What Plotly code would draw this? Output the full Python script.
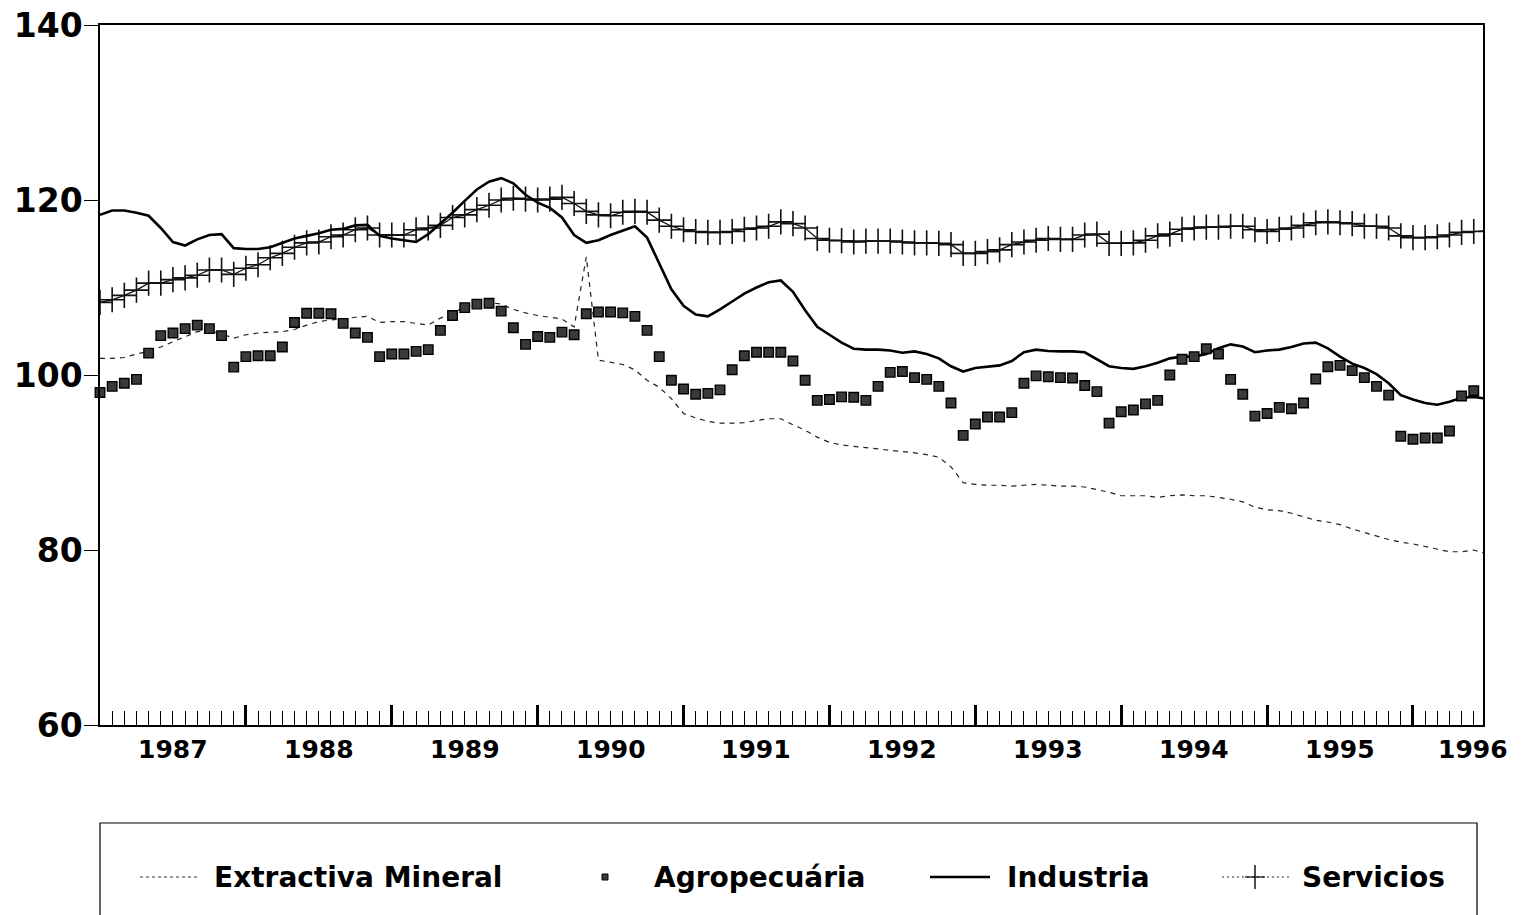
import plotly.graph_objects as go

# ---------------- data (monthly, Jan 1987 .. Jul 1996) ----------------
start_year = 1987
n_months = 115

extractiva = [
    101.9, 101.9, 102.0, 102.4, 102.7, 103.2, 103.8, 104.4, 104.95, 105.1,
    104.7, 104.2, 104.6, 104.8, 104.85, 104.95, 105.2, 105.7, 106.1, 106.3,
    106.4, 106.6, 106.7, 106.0, 106.1, 106.1, 105.9, 105.7, 106.5, 107.05,
    107.8, 108.1, 108.3, 108.1, 107.5, 107.1, 106.8, 106.6, 106.4, 105.5,
    113.5, 101.7, 101.45, 101.2, 100.6, 99.4, 98.6, 97.3, 95.6, 95.1,
    94.7, 94.5, 94.5, 94.55, 94.8, 95.0, 95.0, 94.3, 93.7, 92.9,
    92.3, 92.0, 91.85, 91.7, 91.6, 91.4, 91.3, 91.1, 90.9, 90.6,
    89.5, 87.7, 87.5, 87.4, 87.4, 87.3, 87.4, 87.5, 87.4, 87.3,
    87.3, 87.2, 86.9, 86.6, 86.2, 86.2, 86.2, 86.0, 86.2, 86.3,
    86.2, 86.2, 86.0, 85.8, 85.5, 84.9, 84.6, 84.5, 84.2, 83.8,
    83.4, 83.2, 82.9, 82.4, 82.0, 81.6, 81.2, 80.9, 80.7, 80.4,
    80.1, 79.8, 79.8, 80.0, 79.6,
]

agropecuaria = [
    98.0, 98.7, 99.05, 99.5, 102.5, 104.5, 104.8, 105.3, 105.7, 105.3,
    104.5, 100.9, 102.1, 102.2, 102.2, 103.2, 106.0, 107.05, 107.05, 107.0,
    105.9, 104.8, 104.3, 102.1, 102.4, 102.4, 102.7, 102.9, 105.1, 106.8,
    107.7, 108.1, 108.2, 107.3, 105.4, 103.5, 104.4, 104.3, 104.9, 104.6,
    107.0, 107.2, 107.2, 107.1, 106.7, 105.1, 102.1, 99.4, 98.4, 97.8,
    97.9, 98.3, 100.6, 102.2, 102.6, 102.6, 102.6, 101.6, 99.4, 97.1,
    97.2, 97.5, 97.45, 97.1, 98.7, 100.3, 100.4, 99.7, 99.5, 98.7,
    96.8, 93.1, 94.4, 95.2, 95.2, 95.7, 99.05, 99.9, 99.8, 99.7,
    99.65, 98.8, 98.1, 94.5, 95.8, 96.0, 96.7, 97.1, 100.0, 101.8,
    102.1, 103.0, 102.4, 99.5, 97.8, 95.3, 95.6, 96.3, 96.15, 96.8,
    99.55, 100.95, 101.1, 100.5, 99.7, 98.7, 97.7, 93.0, 92.65, 92.8,
    92.8, 93.6, 97.6, 98.2, 98.7,
]

industria = [
    118.3, 118.8, 118.8, 118.55, 118.2, 116.8, 115.2, 114.8, 115.5, 116.0,
    116.1, 114.5, 114.4, 114.4, 114.6, 115.1, 115.6, 115.9, 116.2, 116.6,
    116.7, 117.1, 117.15, 115.9, 115.6, 115.4, 115.2, 116.1, 117.3, 118.55,
    119.9, 121.2, 122.1, 122.5, 121.9, 120.6, 119.7, 119.1, 118.0, 116.0,
    115.1, 115.4, 116.0, 116.5, 117.0, 115.7, 112.8, 109.8, 107.9, 106.9,
    106.7, 107.5, 108.4, 109.3, 110.0, 110.6, 110.8, 109.5, 107.4, 105.5,
    104.6, 103.7, 103.0, 102.9, 102.9, 102.8, 102.55, 102.7, 102.4, 101.9,
    101.0, 100.4, 100.8, 100.95, 101.1, 101.6, 102.6, 102.9, 102.75, 102.7,
    102.7, 102.6, 101.8, 101.0, 100.8, 100.7, 101.0, 101.4, 101.9, 102.1,
    102.1, 102.4, 103.05, 103.5, 103.25, 102.6, 102.8, 102.9, 103.2, 103.6,
    103.7, 103.05, 102.1, 101.3, 100.8, 100.1, 99.05, 97.7, 97.2, 96.8,
    96.6, 96.95, 97.4, 97.5, 97.3,
]

servicios = [
    108.3, 108.6, 109.1, 109.7, 110.5, 110.5, 110.9, 111.1, 111.4, 112.0,
    112.0, 111.5, 112.2, 112.6, 113.4, 113.9, 114.6, 115.1, 115.2, 115.8,
    116.0, 116.6, 116.8, 116.0, 116.0, 116.0, 116.6, 116.8, 117.1, 118.0,
    118.3, 118.9, 119.4, 120.0, 120.2, 120.1, 120.0, 120.1, 120.3, 119.6,
    118.7, 118.3, 118.2, 118.6, 118.7, 118.6, 117.7, 117.0, 116.6, 116.4,
    116.3, 116.3, 116.4, 116.65, 116.8, 117.0, 117.5, 117.3, 116.8, 115.6,
    115.4, 115.35, 115.2, 115.3, 115.3, 115.3, 115.2, 115.1, 115.1, 115.05,
    114.9, 113.9, 113.9, 114.1, 114.3, 114.9, 115.2, 115.4, 115.6, 115.5,
    115.5, 116.0, 116.1, 115.05, 115.05, 115.1, 115.4, 115.9, 116.1, 116.65,
    116.8, 116.9, 116.9, 117.0, 117.0, 116.6, 116.4, 116.65, 116.8, 117.1,
    117.4, 117.5, 117.4, 117.3, 117.0, 117.0, 116.8, 115.9, 115.7, 115.7,
    115.8, 116.0, 116.3, 116.4, 116.5,
]

year_labels = ["1987", "1988", "1989", "1990", "1991", "1992", "1993", "1994", "1995", "1996"]
y_ticks = [60, 80, 100, 120, 140]
series_names = ["Extractiva Mineral", "Agropecuária", "Industria", "Servicios"]

# ---------------- figure ----------------
t = [start_year + k / 12 for k in range(n_months)]
FONT = "DejaVu Sans"

fig = go.Figure()
fig.add_trace(go.Scatter(x=t, y=extractiva, name=series_names[0], mode="lines",
                         line=dict(color="#222222", width=1.2, dash="5px,5px")))
fig.add_trace(go.Scatter(x=t, y=servicios, name=series_names[3], mode="lines+markers",
                         line=dict(color="#111111", width=1.3),
                         marker=dict(symbol="cross-thin", size=18,
                                     line=dict(color="#111111", width=1.6))))
fig.add_trace(go.Scatter(x=t, y=industria, name=series_names[2], mode="lines",
                         line=dict(color="black", width=2.6)))
fig.add_trace(go.Scatter(x=t, y=agropecuaria, name=series_names[1], mode="markers",
                         cliponaxis=False,
                         marker=dict(symbol="square", size=9.5, color="#3a3a3a",
                                     line=dict(color="black", width=1.4))))

# page geometry (body margin removed by the post script below)
PAGE_W, PAGE_H = 1523, 915
W, H = PAGE_W, PAGE_H
PL, PR, PT, PB = 100, 1483, 25, 725          # plot area in page pixels
L, T = PL, PT
R, B = W - PR, H - PB
pw, ph = PR - PL, PB - PT


def px(xp):
    return (xp - PL) / pw


def py(yp):
    return (PB - yp) / ph


fig.update_layout(
    width=W, height=H,
    margin=dict(l=L, r=R, t=T, b=B, autoexpand=False),
    paper_bgcolor="white", plot_bgcolor="white",
    showlegend=False,
    font=dict(family=FONT, color="black"),
    xaxis=dict(
        range=[1987.0, 1996.48], automargin=False,
        showgrid=False, zeroline=False,
        showline=True, linecolor="black", linewidth=1.5, mirror=True,
        tickmode="array", tickvals=list(range(1988, 1997)),
        ticks="inside", ticklen=20, tickwidth=3, tickcolor="black",
        showticklabels=False,
        minor=dict(ticks="inside", ticklen=14, tickwidth=1, tickcolor="black",
                   tickmode="linear", tick0=1987, dtick=1 / 12, showgrid=False),
    ),
    yaxis=dict(
        range=[60, 140], automargin=False,
        tickmode="array", tickvals=y_ticks,
        ticks="outside", ticklen=14, tickwidth=1.2, tickcolor="black",
        tickfont=dict(family=FONT, size=33, color="black", weight="bold"),
        ticklabelstandoff=-5, ticklabeloverflow="allow",
        showgrid=False, zeroline=False,
        showline=True, linecolor="black", linewidth=1.5, mirror=True,
    ),
)

# year labels centred in each year
annotations = []
for i, lab in enumerate(year_labels):
    xpos = start_year + i + 0.5 if i < len(year_labels) - 1 else 1996.41
    annotations.append(dict(x=xpos, xref="x", y=py(749), yref="paper",
                            text=lab, showarrow=False, xanchor="center", yanchor="middle",
                            font=dict(family=FONT, size=25, color="black", weight="bold")))

# legend (drawn manually to mimic the original boxed legend)
leg_y = 877
text_x = [212, 652, 1005, 1300]
for name, xt in zip(series_names, text_x):
    annotations.append(dict(x=px(xt), xref="paper", y=py(leg_y), yref="paper",
                            text=name, showarrow=False, xanchor="left", yanchor="middle",
                            font=dict(family=FONT, size=28, color="black", weight="bold")))

shapes = [
    # legend box (open at the bottom, cut by the page edge)
    dict(type="rect", xref="paper", yref="paper", x0=px(100), x1=px(1477),
         y0=py(823), y1=py(930), line=dict(color="black", width=1.2)),
    # Extractiva sample
    dict(type="line", xref="paper", yref="paper", x0=px(140), x1=px(200),
         y0=py(leg_y), y1=py(leg_y), line=dict(color="#333333", width=1.2, dash="3px,3px")),
    # Agropecuaria sample
    dict(type="rect", xref="paper", yref="paper", x0=px(602), x1=px(608),
         y0=py(874), y1=py(880), line=dict(color="black", width=1), fillcolor="#3a3a3a"),
    # Industria sample
    dict(type="line", xref="paper", yref="paper", x0=px(930), x1=px(990),
         y0=py(leg_y), y1=py(leg_y), line=dict(color="black", width=2.6)),
    # Servicios sample
    dict(type="line", xref="paper", yref="paper", x0=px(1222), x1=px(1290),
         y0=py(leg_y), y1=py(leg_y), line=dict(color="#333333", width=1.1, dash="2px,3px")),
    dict(type="line", xref="paper", yref="paper", x0=px(1255), x1=px(1255),
         y0=py(865), y1=py(889), line=dict(color="black", width=1.4)),
    dict(type="line", xref="paper", yref="paper", x0=px(1245), x1=px(1265),
         y0=py(leg_y), y1=py(leg_y), line=dict(color="black", width=1.2)),
]

fig.update_layout(annotations=annotations, shapes=shapes)

fig.write_html("out.html",
               config={"displayModeBar": False},
               post_script="document.body.style.margin='0px';document.body.style.overflow='hidden';")
